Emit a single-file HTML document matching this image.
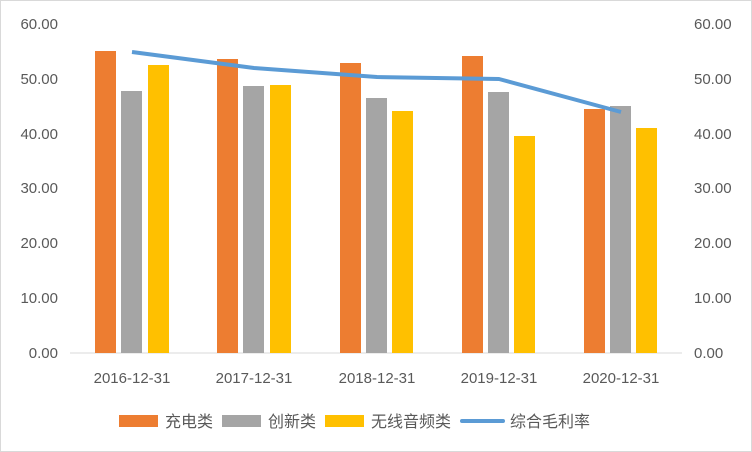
<!DOCTYPE html><html><head><meta charset="utf-8"><style>body{margin:0;background:#fff}svg{display:block}text{font-family:"Liberation Sans","Noto Sans CJK SC",sans-serif;fill:#595959}</style></head><body>
<svg width="752" height="452" viewBox="0 0 752 452">
<rect x="0.5" y="0.5" width="751" height="451" fill="#fff" stroke="#d9d9d9"/>
<line x1="70" y1="353" x2="682" y2="353" stroke="#d9d9d9"/>
<g font-size="15" text-anchor="end">
<text x="58" y="358">0.00</text><text x="58" y="303">10.00</text><text x="58" y="248">20.00</text><text x="58" y="193">30.00</text><text x="58" y="139">40.00</text><text x="58" y="84">50.00</text><text x="58" y="29">60.00</text>
</g>
<g font-size="15" text-anchor="start">
<text x="694" y="358">0.00</text><text x="694" y="303">10.00</text><text x="694" y="248">20.00</text><text x="694" y="193">30.00</text><text x="694" y="139">40.00</text><text x="694" y="84">50.00</text><text x="694" y="29">60.00</text>
</g>
<g>
<rect x="95" y="51" width="21" height="302" fill="#ed7d31"/><rect x="121" y="91" width="21" height="262" fill="#a5a5a5"/><rect x="148" y="65" width="21" height="288" fill="#ffc000"/>
<rect x="217" y="59" width="21" height="294" fill="#ed7d31"/><rect x="243" y="86" width="21" height="267" fill="#a5a5a5"/><rect x="270" y="85" width="21" height="268" fill="#ffc000"/>
<rect x="340" y="63" width="21" height="290" fill="#ed7d31"/><rect x="366" y="98" width="21" height="255" fill="#a5a5a5"/><rect x="392" y="111" width="21" height="242" fill="#ffc000"/>
<rect x="462" y="56" width="21" height="297" fill="#ed7d31"/><rect x="488" y="92" width="21" height="261" fill="#a5a5a5"/><rect x="514" y="136" width="21" height="217" fill="#ffc000"/>
<rect x="584" y="109" width="21" height="244" fill="#ed7d31"/><rect x="610" y="106" width="21" height="247" fill="#a5a5a5"/><rect x="636" y="128" width="21" height="225" fill="#ffc000"/>
</g>
<polyline points="132,52 254,68 377,77 499,79 621,112" fill="none" stroke="#5b9bd5" stroke-width="4" stroke-linejoin="round"/>
<g font-size="15" text-anchor="middle">
<text x="132" y="383">2016-12-31</text><text x="254" y="383">2017-12-31</text><text x="377" y="383">2018-12-31</text><text x="499" y="383">2019-12-31</text><text x="621" y="383">2020-12-31</text>
</g>
<rect x="119" y="415" width="39" height="12" fill="#ed7d31"/><text x="165" y="427" font-size="16">充电类</text>
<rect x="222" y="415" width="39" height="12" fill="#a5a5a5"/><text x="268" y="427" font-size="16">创新类</text>
<rect x="325" y="415" width="39" height="12" fill="#ffc000"/><text x="371" y="427" font-size="16">无线音频类</text>
<line x1="462" y1="421" x2="503" y2="421" stroke="#5b9bd5" stroke-width="4" stroke-linecap="round"/><text x="510" y="427" font-size="16">综合毛利率</text>
</svg></body></html>
